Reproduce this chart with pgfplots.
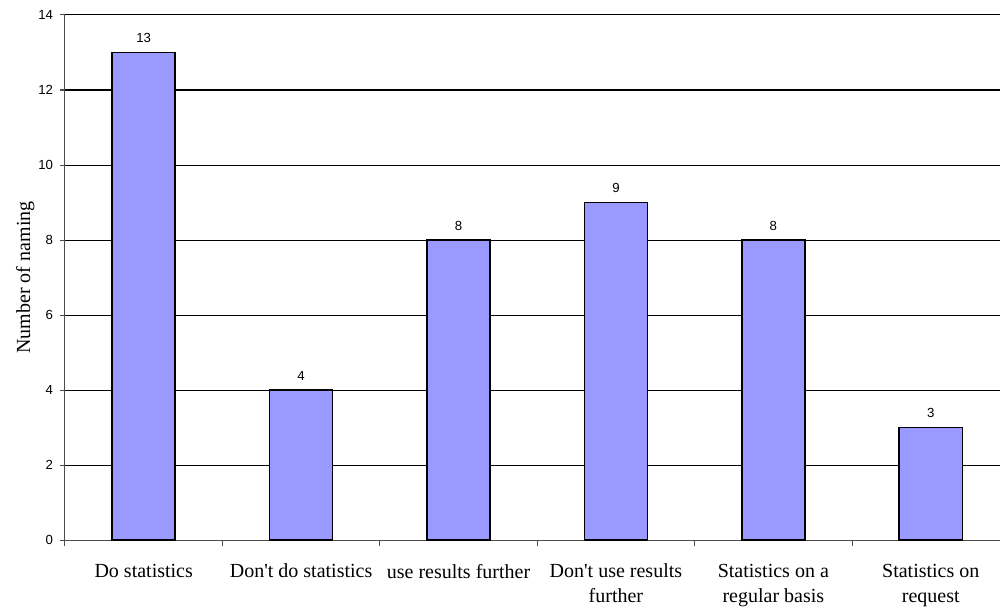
\documentclass[border=0pt]{standalone}
\usepackage{pgfplots}
\pgfplotsset{compat=1.18}
\usepackage{fontspec}
\setmainfont{Liberation Serif}
\newfontfamily\arialfont{Liberation Sans}
\definecolor{barblue}{HTML}{9999FF}

\begin{document}
\begin{tikzpicture}
\begin{axis}[
  scale only axis,
  width=467.5pt, height=262.5pt,
  xmin=-0.5, xmax=5.44,
  ymin=0, ymax=14,
  ytick={0,2,...,14},
  ymajorgrids,
  grid style={black, line width=0.5pt},
  axis x line*=bottom,
  axis y line*=left,
  axis line style={line width=0.5pt, color=black!70},
  x axis line style={-},
  y axis line style={-},
  xtick={0,...,5},
  xticklabels={Do statistics, Don\textquotesingle t do statistics, use results further,
    Don\textquotesingle t use results\\further, Statistics on a\\regular basis, Statistics on\\request},
  minor xtick={-0.5,0.5,1.5,2.5,3.5,4.5},
  major x tick style={draw=none},
  minor x tick style={black!70, line width=0.5pt},
  minor tick length=3pt,
  major tick length=2.5pt,
  tick align=outside,
  y tick style={black!70, line width=0.5pt},
  xticklabel style={font=\fontsize{10}{12.5}\selectfont, align=center, yshift=-6pt, anchor=north},
  yticklabel style={font=\arialfont\fontsize{6.6}{7}\selectfont},
  /pgf/number format/assume math mode=true,
  ylabel={Number of naming},
  every axis y label/.style={at={(axis description cs:0,0.5)}, xshift=-17.5pt,
    anchor=base, rotate=90, font=\fontsize{10}{11}\selectfont},
  ybar, bar width=31.5pt,
  nodes near coords,
  nodes near coords style={font=\arialfont\fontsize{6.6}{7}\selectfont, yshift=1pt},
]
\addplot[fill=barblue, draw=black, line width=0.75pt] coordinates {
  (0,13) (1,4) (2,8) (3,9) (4,8) (5,3)
};
\end{axis}
\pgfresetboundingbox
\path[use as bounding box] ([xshift=-32.5pt,yshift=-33pt]current axis.south west)
  rectangle ([yshift=7.5pt]current axis.north east);
\end{tikzpicture}
\end{document}
